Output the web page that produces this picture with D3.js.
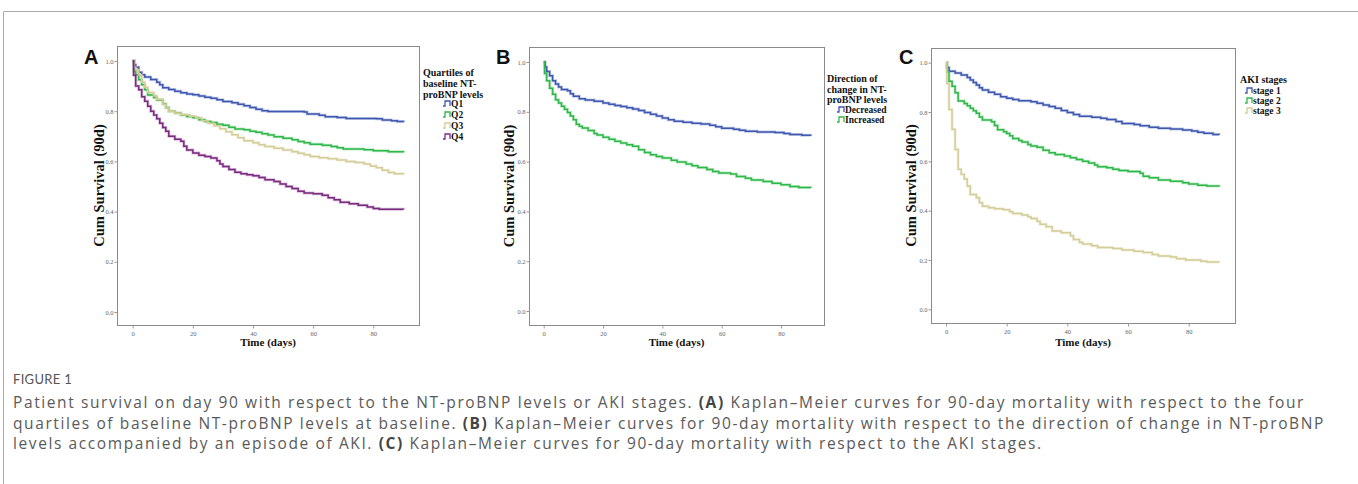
<!DOCTYPE html>
<html>
<head>
<meta charset="utf-8">
<script src="https://cdn.jsdelivr.net/npm/d3@7"></script>
<style>
  body { margin: 0; background: #fff; }
  svg { display: block; }
</style>
</head>
<body>
<svg id="fig" width="1358" height="484"></svg>
<script>
// tick labels shared by all three panels
var xTicks = [0, 20, 40, 60, 80];
var yTicks = [0.0, 0.2, 0.4, 0.6, 0.8, 1.0];

// Panel A - quartiles of baseline NT-proBNP
var quartiles = ['Q1', 'Q2', 'Q3', 'Q4'];
var aQ1 = [[0,1],[0.5,0.985],[1,0.975],[2,0.955],[3,0.945],[4,0.936],[6,0.926],[8,0.915],[9,0.905],[10,0.893],[12,0.886],[14,0.879],[16,0.874],[18,0.869],[20,0.866],[22,0.861],[24,0.856],[26,0.852],[28,0.846],[30,0.839],[33,0.834],[35,0.828],[37,0.822],[39,0.815],[41,0.808],[43,0.802],[45,0.799],[57,0.797],[58,0.789],[62,0.784],[64,0.778],[68,0.775],[71,0.771],[81,0.770],[83,0.765],[86,0.762],[88,0.759],[90,0.756]];
var aQ2 = [[0,1],[0.4,0.96],[1,0.945],[2,0.925],[3,0.905],[4,0.885],[5,0.865],[7,0.855],[8,0.845],[10,0.83],[11,0.815],[12,0.80],[14,0.793],[16,0.785],[18,0.779],[20,0.774],[22,0.766],[24,0.759],[26,0.755],[28,0.748],[30,0.744],[32,0.736],[34,0.729],[37,0.726],[39,0.72],[41,0.716],[43,0.71],[45,0.705],[47,0.698],[50,0.692],[53,0.686],[55,0.679],[57,0.674],[59,0.668],[63,0.664],[66,0.659],[68,0.654],[70,0.649],[77,0.646],[80,0.642],[85,0.638],[90,0.635]];
var aQ3 = [[0,1],[0.5,0.975],[1,0.965],[2,0.945],[3,0.915],[4,0.895],[5,0.875],[7,0.862],[8,0.848],[10,0.828],[11,0.813],[12,0.80],[14,0.792],[16,0.786],[19,0.78],[21,0.773],[23,0.762],[25,0.752],[27,0.742],[29,0.73],[31,0.718],[33,0.706],[35,0.694],[37,0.682],[40,0.674],[42,0.666],[44,0.659],[47,0.652],[50,0.645],[53,0.638],[55,0.632],[57,0.626],[59,0.62],[62,0.615],[65,0.611],[68,0.606],[71,0.6],[74,0.596],[77,0.59],[79,0.582],[81,0.575],[83,0.565],[85,0.556],[87,0.551],[90,0.548]];
var aQ4 = [[0,1],[0.3,0.943],[1,0.9],[2,0.885],[3,0.858],[4,0.84],[5,0.82],[6,0.8],[7,0.785],[8,0.77],[9,0.752],[10,0.735],[11,0.72],[12,0.7],[14,0.688],[16,0.68],[17,0.66],[18,0.645],[20,0.633],[22,0.625],[24,0.62],[26,0.614],[28,0.603],[29,0.59],[30,0.58],[32,0.568],[34,0.557],[36,0.551],[38,0.547],[40,0.543],[42,0.536],[44,0.527],[47,0.52],[49,0.51],[51,0.5],[53,0.492],[55,0.481],[57,0.474],[60,0.471],[63,0.465],[65,0.455],[67,0.447],[69,0.437],[72,0.431],[75,0.425],[78,0.418],[80,0.412],[82,0.409],[90,0.408]];

// Panel B - direction of change in NT-proBNP
var directions = ['Decreased', 'Increased'];
var bDecreased = [[0,1],[0.5,0.98],[1,0.962],[2,0.945],[3,0.925],[4,0.912],[5,0.9],[6,0.89],[8,0.885],[9,0.872],[10,0.862],[12,0.852],[14,0.847],[17,0.842],[20,0.835],[22,0.83],[24,0.825],[26,0.821],[28,0.816],[30,0.811],[32,0.805],[34,0.797],[36,0.79],[38,0.783],[40,0.775],[42,0.768],[44,0.762],[47,0.758],[50,0.754],[53,0.751],[56,0.746],[58,0.74],[60,0.734],[64,0.73],[66,0.726],[68,0.722],[72,0.719],[78,0.717],[81,0.713],[83,0.709],[87,0.706],[90,0.704]];
var bIncreased = [[0,1],[0.3,0.954],[1,0.925],[2,0.895],[3,0.87],[4,0.848],[5,0.835],[6,0.822],[7,0.81],[8,0.797],[9,0.783],[10,0.768],[11,0.75],[12,0.742],[13,0.735],[15,0.725],[17,0.713],[18,0.707],[20,0.698],[22,0.69],[24,0.682],[26,0.675],[28,0.668],[30,0.662],[32,0.648],[34,0.637],[36,0.628],[38,0.62],[40,0.614],[43,0.605],[45,0.598],[48,0.59],[50,0.583],[52,0.576],[55,0.568],[57,0.56],[59,0.554],[63,0.55],[65,0.54],[68,0.533],[70,0.526],[74,0.52],[77,0.513],[80,0.507],[83,0.5],[86,0.496],[90,0.494]];

// Panel C - AKI stages
var stages = ['stage 1', 'stage 2', 'stage 3'];
var cStage1 = [[0,1],[0.3,0.981],[1,0.965],[3,0.958],[5,0.95],[7,0.94],[8,0.93],[9,0.92],[10,0.91],[11,0.898],[12,0.889],[14,0.88],[16,0.872],[18,0.862],[20,0.856],[22,0.851],[24,0.846],[28,0.842],[30,0.836],[32,0.828],[34,0.822],[36,0.815],[38,0.806],[40,0.798],[42,0.79],[44,0.783],[48,0.779],[51,0.775],[53,0.77],[56,0.762],[58,0.753],[62,0.749],[64,0.744],[67,0.738],[70,0.734],[74,0.731],[78,0.727],[81,0.723],[83,0.718],[85,0.714],[88,0.709],[90,0.707]];
var cStage2 = [[0,1],[0.4,0.962],[1,0.925],[2,0.905],[3,0.878],[4,0.845],[6,0.835],[7,0.825],[8,0.815],[9,0.805],[10,0.795],[11,0.78],[12,0.768],[15,0.761],[16,0.745],[17,0.728],[19,0.72],[20,0.713],[21,0.704],[22,0.693],[24,0.685],[25,0.678],[27,0.668],[28,0.662],[30,0.657],[32,0.645],[34,0.635],[36,0.628],[39,0.622],[41,0.615],[43,0.607],[45,0.6],[47,0.593],[49,0.585],[50,0.578],[53,0.574],[55,0.568],[57,0.563],[60,0.559],[64,0.552],[65,0.54],[67,0.533],[70,0.524],[74,0.519],[78,0.513],[80,0.508],[83,0.503],[86,0.5],[90,0.497]];
var cStage3 = [[0,1],[0.3,0.916],[1,0.81],[2,0.73],[3,0.648],[4,0.568],[5,0.548],[6,0.528],[7,0.5],[8,0.466],[10,0.452],[11,0.432],[12,0.418],[14,0.412],[16,0.408],[19,0.404],[21,0.396],[22,0.388],[25,0.382],[27,0.375],[28,0.368],[30,0.357],[31,0.345],[33,0.335],[35,0.318],[38,0.31],[41,0.298],[42,0.283],[44,0.272],[45,0.265],[48,0.258],[50,0.251],[55,0.247],[58,0.24],[62,0.235],[65,0.23],[68,0.222],[70,0.216],[74,0.212],[76,0.205],[79,0.2],[84,0.195],[86,0.192],[90,0.191]];

var blue = '#3e57b0', green = '#2fb84a', tan = '#d4cd98', purple = '#7b2a80';

var svg = d3.select('#fig');

// outer figure border
svg.append('path')
  .attr('d', 'M3.5,484 V11.5 H1358')
  .attr('fill', 'none')
  .attr('stroke', '#aaa')
  .attr('stroke-width', 1);

var panels = [
  {
    letter: 'A', lx: 84, box: [117, 46, 419, 325],
    x0: 132.7, x80: 373.3, y1: 61, y0: 312,
    yTitleX: 99,
    series: [aQ1, aQ2, aQ3, aQ4], names: quartiles, colors: [blue, green, tan, purple],
    legTitle: ['Quartiles of', 'baseline NT-', 'proBNP levels'], legX: 423, legY: 76, legStep: 11,
    iconX: 443, itemY: 107, itemStep: 11
  },
  {
    letter: 'B', lx: 496, box: [529, 47, 824, 325],
    x0: 543.7, x80: 781, y1: 62, y0: 311,
    yTitleX: 509,
    series: [bDecreased, bIncreased], names: directions, colors: [blue, green],
    legTitle: ['Direction of', 'change in NT-', 'proBNP levels'], legX: 827, legY: 82, legStep: 10.5,
    iconX: 837, itemY: 113, itemStep: 10
  },
  {
    letter: 'C', lx: 899, box: [931, 48, 1235, 323],
    x0: 946, x80: 1188.7, y1: 62.7, y0: 309.3,
    yTitleX: 911,
    series: [cStage1, cStage2, cStage3], names: stages, colors: [blue, green, tan],
    legTitle: ['AKI stages'], legX: 1240, legY: 83, legStep: 10,
    iconX: 1245, itemY: 94, itemStep: 10
  }
];

panels.forEach(function(p) {
  var g = svg.append('g');
  var x = d3.scaleLinear().domain([0, 80]).range([p.x0, p.x80]);
  var y = d3.scaleLinear().domain([0, 1]).range([p.y0, p.y1]);
  var b = p.box;

  // plot frame
  g.append('rect')
    .attr('x', b[0] + 0.5).attr('y', b[1] + 0.5)
    .attr('width', b[2] - b[0]).attr('height', b[3] - b[1])
    .attr('fill', 'none').attr('stroke', '#8a8a8a').attr('stroke-width', 1);

  // axes
  var ya = g.append('g')
    .attr('transform', 'translate(' + (b[0] + 0.5) + ',0)')
    .call(d3.axisLeft(y).tickValues(yTicks).tickFormat(d3.format('.1f')).tickSize(3).tickPadding(1));
  var xa = g.append('g')
    .attr('transform', 'translate(0,' + (b[3] + 0.5) + ')')
    .call(d3.axisBottom(x).tickValues(xTicks).tickFormat(d3.format('d')).tickSize(3).tickPadding(3));
  [ya, xa].forEach(function(a) {
    a.select('.domain').remove();
    a.selectAll('line').attr('stroke', '#999');
    a.selectAll('text').attr('fill', '#666').style('font', '6.5px "Liberation Serif", serif');
  });

  // curves
  var line = d3.line()
    .x(function(d) { return x(d[0]); })
    .y(function(d) { return y(d[1]); })
    .curve(d3.curveStepAfter);
  p.series.forEach(function(s, i) {
    g.append('path').datum(s).attr('d', line)
      .attr('fill', 'none').attr('stroke', p.colors[i])
      .attr('stroke-opacity', 0.3).attr('stroke-width', 3);
    g.append('path').datum(s).attr('d', line)
      .attr('fill', 'none').attr('stroke', p.colors[i])
      .attr('stroke-width', 1.5);
  });

  // panel letter
  g.append('text').text(p.letter)
    .attr('x', p.lx).attr('y', 64)
    .style('font', 'bold 20px "Liberation Sans", Arial, sans-serif')
    .attr('fill', '#111');

  // axis titles
  g.append('text').text('Cum Survival (90d)')
    .attr('transform', 'translate(' + p.yTitleX + ',' + ((b[1] + b[3]) / 2) + ') rotate(-90)')
    .attr('text-anchor', 'middle').attr('dy', '0.35em')
    .style('font', 'bold 14.5px "Liberation Serif", "Times New Roman", serif')
    .attr('fill', '#111');
  g.append('text').text('Time (days)')
    .attr('x', (b[0] + b[2]) / 2).attr('y', 346)
    .attr('text-anchor', 'middle')
    .style('font', 'bold 11px "Liberation Serif", "Times New Roman", serif')
    .attr('fill', '#111');

  // legend
  p.legTitle.forEach(function(t, i) {
    g.append('text').text(t)
      .attr('x', p.legX).attr('y', p.legY + i * p.legStep)
      .style('font', 'bold 10px "Liberation Serif", serif')
      .attr('fill', '#111');
  });
  p.names.forEach(function(n, i) {
    var yy = p.itemY + i * p.itemStep;
    g.append('path')
      .attr('d', 'M' + p.iconX + ',' + (yy - 1) + ' h2 v-5 h5 v5')
      .attr('fill', 'none').attr('stroke', p.colors[i]).attr('stroke-width', 1.3);
    g.append('text').text(n)
      .attr('x', p.iconX + 8).attr('y', yy)
      .style('font', 'bold 9.5px "Liberation Serif", serif')
      .attr('fill', '#111');
  });
});

// caption
svg.append('text').text('FIGURE 1')
  .attr('x', 13).attr('y', 384)
  .style('font', '13px Lato, "Open Sans", sans-serif')
  .style('letter-spacing', '0.3px')
  .attr('fill', '#555');

var capLines = [
  [['Patient survival on day 90 with respect to the NT-proBNP levels or AKI stages. ', false], ['(A)', true], [' Kaplan\u2013Meier curves for 90-day mortality with respect to the four', false]],
  [['quartiles of baseline NT-proBNP levels at baseline. ', false], ['(B)', true], [' Kaplan\u2013Meier curves for 90-day mortality with respect to the direction of change in NT-proBNP', false]],
  [['levels accompanied by an episode of AKI. ', false], ['(C)', true], [' Kaplan\u2013Meier curves for 90-day mortality with respect to the AKI stages.', false]]
];
var capTexts = capLines.map(function(parts, i) {
  var t = svg.append('text')
    .attr('x', 13).attr('y', 408 + i * 20.7)
    .style('font-family', '"Open Sans", Lato, sans-serif')
    .style('font-size', '15.5px')
    .attr('fill', '#5a5a5a');
  parts.forEach(function(pt) {
    t.append('tspan').text(pt[0])
      .attr('font-weight', pt[1] ? 700 : null)
      .attr('fill', pt[1] ? '#444' : null);
  });
  return t;
});
// stretch the letter spacing so the first caption line spans the width it has in the figure
var first = capTexts[0];
var n0 = first.text().length;
var ls = (1292 - first.node().getComputedTextLength()) / n0;
capTexts.forEach(function(t) { t.style('letter-spacing', ls + 'px'); });
</script>
</body>
</html>
